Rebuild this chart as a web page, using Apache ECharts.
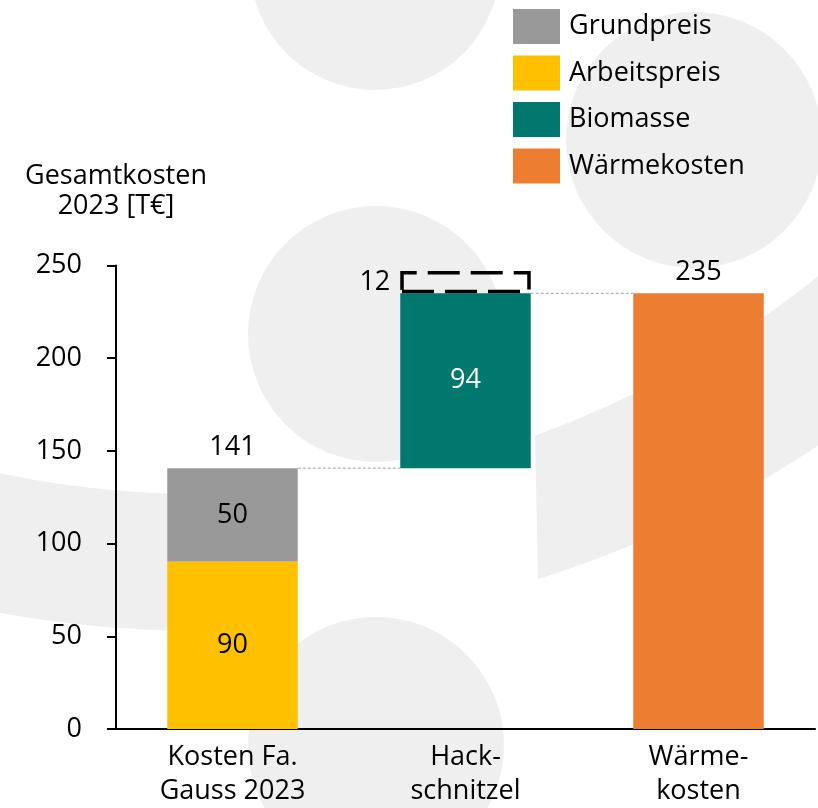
<!DOCTYPE html>
<html>
<head>
<meta charset="utf-8">
<title>Gesamtkosten 2023</title>
<script src="https://cdn.jsdelivr.net/npm/echarts@6/dist/echarts.min.js"></script>
<style>
    html, body { margin: 0; padding: 0; background: #fff; }
    #kosten { width: 818px; height: 808px; }
</style>
</head>
<body>
<div id="kosten"></div>
<script>
// Daten (T€)
var categories = ['Kosten Fa.\nGauss 2023', 'Hack-\nschnitzel', 'Wärme-\nkosten'];
var grundpreis = [50.4, '-', '-'];
var arbeitspreis = [90.3, '-', '-'];
var biomasse = ['-', 94.3, '-'];
var biomasseZusatz = ['-', 12, '-'];
var waermekosten = ['-', '-', 235];
var yMax = 250;
var yStep = 50;

var FONT = '"Open Sans", "Noto Sans", sans-serif';
var WEIGHT = 500;
var GRAU_BG = '#efefef';

function num (v) {
    return typeof v === 'number' ? v : 0
}
function rund (p) {
    return Math.round(p.value)
}

// Sockel fuer den Wasserfall
var summeFa = num(arbeitspreis[0]) + num(grundpreis[0]);
var sockel = ['-', summeFa, '-'];
var summen = [summeFa, '-', '-'];
var verbinder = [[0, summeFa], [1, summeFa + num(biomasse[1])]];

// Hintergrund: Ringstueck zwischen x0 und x1
var RING = {cx: 201, cy: -489, r0: 983, r: 1120};
function ringStueck (x0, x1) {
    var pts = [];
    var x;
    for (x = x0; x <= x1; x += 4) {
        pts.push([x, RING.cy + Math.sqrt(RING.r0 * RING.r0 - (x - RING.cx) * (x - RING.cx))]);
    }
    for (x = x1; x >= x0; x -= 4) {
        pts.push([x, RING.cy + Math.sqrt(RING.r * RING.r - (x - RING.cx) * (x - RING.cx))]);
    }
    return pts;
}
function kreis (cx, cy, r) {
    return {type: 'circle', shape: {cx: cx, cy: cy, r: r}, style: {fill: GRAU_BG}, z: -10, silent: true};
}

function initChart () {
    var myChart = echarts.init(document.getElementById('kosten'));

    var option = {
        animation: false,
        graphic: [
            kreis(375, -35, 125),
            kreis(694, 140, 128),
            kreis(376, 334, 128),
            kreis(376, 745, 128),
            {type: 'polygon', shape: {points: ringStueck(-10, 232)}, style: {fill: GRAU_BG}, z: -10, silent: true},
            {type: 'polygon', shape: {points: ringStueck(535, 830)}, style: {fill: GRAU_BG}, z: -10, silent: true}
        ],
        legend: {
            orient: 'vertical',
            left: 513,
            top: 9,
            padding: 0,
            itemWidth: 47,
            itemHeight: 35,
            itemGap: 11.5,
            icon: 'rect',
            selectedMode: false,
            textStyle: {fontFamily: FONT, fontWeight: WEIGHT, fontSize: 27, color: '#000', padding: [0, 0, 0, 4]},
            data: ['Grundpreis', 'Arbeitspreis', 'Biomasse', 'Wärmekosten']
        },
        grid: {
            left: 116,
            right: 3,
            top: 265.5,
            bottom: 77
        },
        xAxis: {
            type: 'category',
            data: categories,
            axisLine: {lineStyle: {color: '#000', width: 2}},
            axisTick: {show: false},
            axisLabel: {
                fontFamily: FONT,
                fontWeight: WEIGHT,
                fontSize: 27,
                color: '#000',
                lineHeight: 34,
                margin: 11,
                interval: 0
            }
        },
        yAxis: {
            type: 'value',
            min: 0,
            max: yMax,
            interval: yStep,
            name: 'Gesamtkosten\n2023 [T€]',
            nameLocation: 'end',
            nameGap: 44,
            nameTextStyle: {
                fontFamily: FONT,
                fontWeight: WEIGHT,
                fontSize: 27,
                color: '#000',
                lineHeight: 30,
                align: 'center'
            },
            axisLine: {show: true, lineStyle: {color: '#000', width: 2}},
            axisTick: {show: true, length: 9, lineStyle: {color: '#000', width: 2}},
            axisLabel: {fontFamily: FONT, fontWeight: WEIGHT, fontSize: 27, color: '#000', margin: 34},
            splitLine: {show: false}
        },
        series: [
            {
                name: 'Arbeitspreis',
                type: 'bar',
                stack: 'gesamt',
                barWidth: '56%',
                itemStyle: {color: '#FFC000'},
                label: $label('inside', '#000'),
                data: arbeitspreis
            },
            {
                name: 'Grundpreis',
                type: 'bar',
                stack: 'gesamt',
                barWidth: '56%',
                itemStyle: {color: '#999999'},
                label: $label('inside', '#000'),
                data: grundpreis
            },
            {
                name: 'Sockel',
                type: 'bar',
                stack: 'gesamt',
                barWidth: '56%',
                silent: true,
                itemStyle: {color: 'transparent'},
                data: sockel
            },
            {
                name: 'Biomasse',
                type: 'bar',
                stack: 'gesamt',
                barWidth: '56%',
                itemStyle: {color: '#00786E'},
                label: $label('inside', '#fff'),
                data: biomasse
            },
            {
                name: 'Wärmekosten',
                type: 'bar',
                stack: 'gesamt',
                barWidth: '56%',
                itemStyle: {color: '#ED7D31'},
                label: $label('top', '#000', 7),
                data: waermekosten
            },
            {
                name: 'Zusatz',
                type: 'bar',
                stack: 'gesamt',
                barWidth: '56%',
                itemStyle: {
                    color: 'transparent',
                    borderColor: '#000',
                    borderWidth: 3.5,
                    borderType: [32, 11]
                },
                label: $label('left', '#000', 10),
                data: biomasseZusatz
            },
            {
                name: 'Summe',
                type: 'scatter',
                symbolSize: 0,
                itemStyle: {opacity: 1},
                label: $label('top', '#000', 7),
                data: summen
            },
            {
                // gestrichelte Verbindungslinien zwischen den Saeulen
                name: 'Verbinder',
                type: 'custom',
                silent: true,
                encode: {x: 0, y: 1},
                renderItem: function (params, api) {
                    var start = api.coord([api.value(0), api.value(1)]);
                    var end = api.coord([api.value(0) + 1, api.value(1)]);
                    var half = api.size([1, 0])[0] * 0.28;
                    return {
                        type: 'line',
                        shape: {x1: start[0] + half, y1: start[1], x2: end[0] - half, y2: end[1]},
                        style: {stroke: '#a0a0a0', lineWidth: 1, lineDash: [3, 2]}
                    };
                },
                data: verbinder
            }
        ]
    };

    function $label (pos, color, dist) {
        return {
            show: true,
            position: pos,
            distance: dist || 5,
            fontFamily: FONT,
            fontWeight: WEIGHT,
            fontSize: 27,
            color: color,
            opacity: 1,
            formatter: rund
        };
    }

    myChart.setOption(option);
}

initChart();
</script>
</body>
</html>
